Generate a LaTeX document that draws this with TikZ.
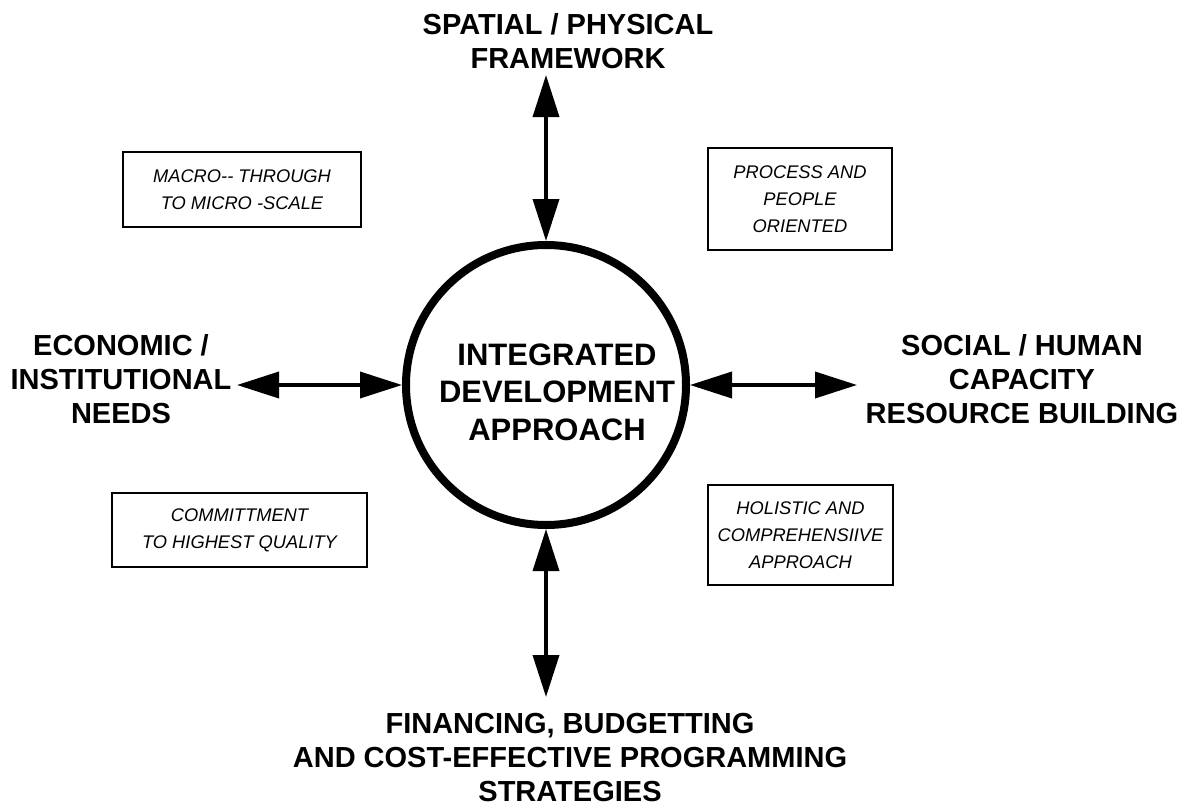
\documentclass[tikz,border=0pt]{standalone}
\usepackage{fontspec}
\setmainfont{Liberation Sans}
\usetikzlibrary{arrows.meta}
\tikzset{
  big/.style={font=\bfseries\fontsize{29}{34}\selectfont, align=center, inner sep=0pt},
  core/.style={circle, draw, line width=8pt, minimum size=280pt, inner sep=0pt,
    font=\bfseries\fontsize{31}{37.5}\selectfont, align=center},
  note/.style={draw, line width=1.3pt, inner sep=0pt, align=center,
    font=\itshape\fontsize{18.3}{27}\selectfont},
  link/.style={line width=3.6pt,
    {Triangle[length=42pt,width=26pt]}-{Triangle[length=42pt,width=26pt]}}
}
\begin{document}
\begin{tikzpicture}[x=1pt,y=-1pt]
\useasboundingbox (0,0) rectangle (1188,808);
% central circle
\node[core] (c) at (546,385) {};
\node[font=\bfseries\fontsize{31}{37.5}\selectfont, align=center, inner sep=0pt] (ct) at (557,392) {INTEGRATED\\DEVELOPMENT\\APPROACH};
% outer labels
\node[big] (top) at (568,41) {SPATIAL / PHYSICAL\\FRAMEWORK};
\node[big] (left) at (121,379) {ECONOMIC /\\INSTITUTIONAL\\NEEDS};
\node[big] (right) at (1022,379) {SOCIAL / HUMAN\\CAPACITY\\RESOURCE BUILDING};
\node[big] (bot) at (570,758) {FINANCING, BUDGETTING\\AND COST-EFFECTIVE PROGRAMMING\\STRATEGIES};
% free arrow ends
\coordinate (tA) at (546,75);
\coordinate (bA) at (546,697);
\coordinate (lA) at (237,385);
\coordinate (rA) at (857,385);
\draw[link] (tA) -- (c.north);
\draw[link] (c.south) -- (bA);
\draw[link] (lA) -- (c.west);
\draw[link] (c.east) -- (rA);
% boxes
\node[note, minimum width=238pt, minimum height=75pt] (b1) at (242,189.5) {MACRO{-}{-} THROUGH\\TO MICRO -SCALE};
\node[note, minimum width=184pt, minimum height=102pt] (b2) at (800,199) {PROCESS AND\\PEOPLE\\ORIENTED};
\node[note, minimum width=255pt, minimum height=74pt] (b3) at (239.5,530) {COMMITTMENT\\TO HIGHEST QUALITY};
\node[note, minimum width=185pt, minimum height=100pt] (b4) at (800.5,535) {HOLISTIC AND\\COMPREHENSIIVE\\APPROACH};
\end{tikzpicture}
\end{document}
